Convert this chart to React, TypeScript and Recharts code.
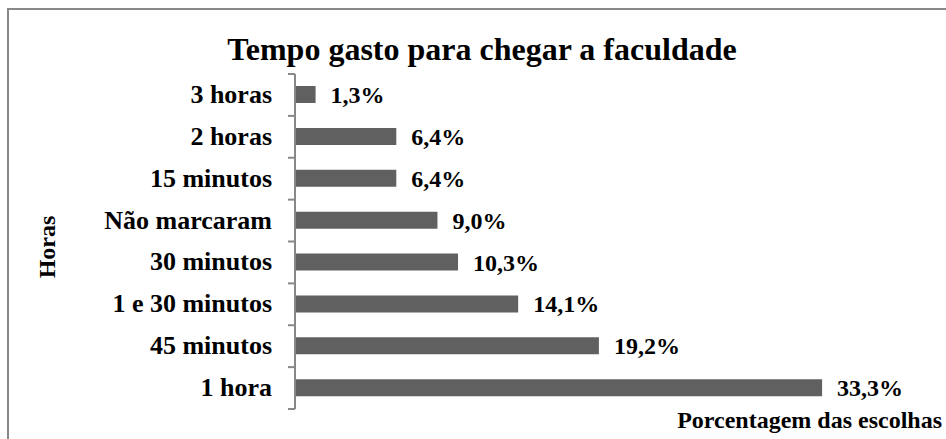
import React from "react";
import { BarChart, Bar, XAxis, YAxis, LabelList } from "recharts";

const categories = [
  "3 horas",
  "2 horas",
  "15 minutos",
  "Não marcaram",
  "30 minutos",
  "1 e 30 minutos",
  "45 minutos",
  "1 hora",
];
const percentages = [1.3, 6.4, 6.4, 9.0, 10.3, 14.1, 19.2, 33.3];
const xDomain = [0, 35];

const data = categories.map((name, i) => ({ name, value: percentages[i] }));

const W = 946;
const H = 439;
const AXIS_X = 295;
const PLOT_TOP = 74;
const PLOT_BOTTOM = 409;
const BAND = (PLOT_BOTTOM - PLOT_TOP) / categories.length;
const FONT = '"Liberation Serif", "Times New Roman", serif';

function CategoryTick(props: any) {
  const { y, payload, index } = props;
  const half = BAND / 2;
  return (
    <g>
      <line x1={AXIS_X - 7} x2={AXIS_X} y1={y - half} y2={y - half} stroke="#888" strokeWidth={2} />
      {index === categories.length - 1 && (
        <line x1={AXIS_X - 7} x2={AXIS_X} y1={y + half} y2={y + half} stroke="#888" strokeWidth={2} />
      )}
      <text
        x={272}
        y={y}
        dy={8}
        textAnchor="end"
        fontFamily={FONT}
        fontWeight="bold"
        fontSize={26}
        fill="#000"
      >
        {payload.value}
      </text>
    </g>
  );
}

export default function App() {
  return (
    <div style={{ position: "absolute", left: 0, top: 0, width: W, height: H, background: "#fff", overflow: "hidden" }}>
      <div
        style={{
          position: "absolute",
          left: 7,
          top: 8,
          width: W,
          height: H,
          border: "2px solid #888",
        }}
      />
      <BarChart
        width={W}
        height={H}
        layout="vertical"
        data={data}
        margin={{ top: PLOT_TOP, right: W - 849, bottom: H - PLOT_BOTTOM, left: 0 }}
        barCategoryGap={0}
      >
        <XAxis type="number" domain={xDomain} hide />
        <YAxis
          type="category"
          dataKey="name"
          width={AXIS_X}
          axisLine={{ stroke: "#888", strokeWidth: 2 }}
          tickLine={false}
          tick={<CategoryTick />}
          interval={0}
        />
        <Bar dataKey="value" fill="#606060" barSize={17} isAnimationActive={false}>
          <LabelList
            dataKey="value"
            position="right"
            offset={15}
            formatter={(v: any) => `${Number(v).toFixed(1).replace(".", ",")}%`}
            style={{ fontFamily: FONT, fontWeight: "bold", fontSize: 24, fill: "#000" }}
          />
        </Bar>
      </BarChart>
      <svg width={W} height={H} style={{ position: "absolute", left: 0, top: 0, pointerEvents: "none" }}>
        <text x={482} y={60} textAnchor="middle" fontFamily={FONT} fontWeight="bold" fontSize={32} fill="#000">
          Tempo gasto para chegar a faculdade
        </text>
        <text
          x={55}
          y={247}
          transform="rotate(-90 55 247)"
          textAnchor="middle"
          fontFamily={FONT}
          fontWeight="bold"
          fontSize={24}
          fill="#000"
        >
          Horas
        </text>
        <text x={942} y={428} textAnchor="end" fontFamily={FONT} fontWeight="bold" fontSize={24} fill="#000">
          Porcentagem das escolhas
        </text>
      </svg>
    </div>
  );
}
